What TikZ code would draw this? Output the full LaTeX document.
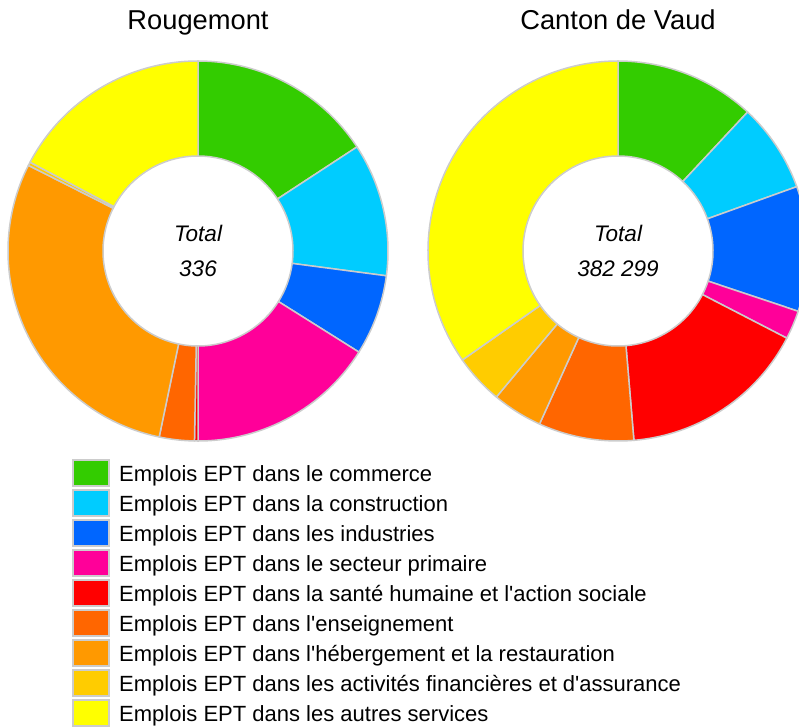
\documentclass[tikz,border=0pt]{standalone}
\usepackage{fontspec}
\setmainfont{Liberation Sans}
\usetikzlibrary{positioning}

\definecolor{commerce}{HTML}{33CC00}
\definecolor{construction}{HTML}{00CCFF}
\definecolor{industrie}{HTML}{0066FF}
\definecolor{primaire}{HTML}{FF0099}
\definecolor{sante}{HTML}{FF0000}
\definecolor{enseignement}{HTML}{FF6600}
\definecolor{hebergement}{HTML}{FF9900}
\definecolor{finance}{HTML}{FFCC00}
\definecolor{autres}{HTML}{FFFF00}
\definecolor{sepgray}{HTML}{CCCCCC}

\newcommand{\outR}{190pt}
\newcommand{\inR}{95pt}
% one ring segment: centre, start angle, end angle (clockwise from top), colour
\newcommand{\donutslice}[4]{%
  \filldraw[slice, fill=#4, shift={(#1)}]
    (90-#2:\outR) arc[start angle=90-#2, end angle=90-#3, radius=\outR]
    -- (90-#3:\inR) arc[start angle=90-#3, end angle=90-#2, radius=\inR] -- cycle;}

\begin{document}
\begin{tikzpicture}[x=1pt, y=1pt,
    slice/.style={draw=sepgray, line width=1.5pt, line join=round},
    title/.style={font=\fontsize{27.3}{32}\selectfont, anchor=base},
    total/.style={font=\fontsize{22.5}{27}\selectfont\itshape, anchor=base},
    keybox/.style={draw=sepgray, line width=2pt, minimum width=36pt, minimum height=26pt, inner sep=0pt, outer sep=0pt},
    keytext/.style={font=\fontsize{22}{26}\selectfont, anchor=base west, inner sep=0pt}]
    \useasboundingbox (0,0) rectangle (799,-727);
    \clip (0,0) rectangle (799,-727);

    %Centres
    \coordinate (rg) at (198,-251);
    \coordinate (vd) at (618,-251);

    %Rings
    \foreach \a/\b/\c in {0/56.79/commerce, 56.79/97.5/construction, 97.5/122.14/industrie,
        122.14/180/primaire, 180/181.07/sante, 181.07/191.79/enseignement,
        191.79/296.79/hebergement, 296.79/297.86/finance, 297.86/360/autres}
        \donutslice{rg}{\a}{\b}{\c};
    \foreach \a/\b/\c in {0/43/commerce, 43/70.2/construction, 70.2/108.5/industrie,
        108.5/117.3/primaire, 117.3/175.2/sante, 175.2/204.4/enseignement,
        204.4/219.8/hebergement, 219.8/235/finance, 235/360/autres}
        \donutslice{vd}{\a}{\b}{\c};

    %Titles
    \node[title] (rgtitle) at (198,-30) {Rougemont};
    \node[title] (vdtitle) at (618,-30) {Canton de Vaud};
    \node[total] (rgtotal) at (198,-241) {Total};
    \node[total] (rgsum)   at (198,-276) {336};
    \node[total] (vdtotal) at (618,-241) {Total};
    \node[total] (vdsum)   at (618,-276) {382 299};

    %Legend
    \node[keybox, fill=commerce]     (key1) at (91,-473) {};
    \node[keybox, fill=construction] (key2) [below=4pt of key1] {};
    \node[keybox, fill=industrie]    (key3) [below=4pt of key2] {};
    \node[keybox, fill=primaire]     (key4) [below=4pt of key3] {};
    \node[keybox, fill=sante]        (key5) [below=4pt of key4] {};
    \node[keybox, fill=enseignement] (key6) [below=4pt of key5] {};
    \node[keybox, fill=hebergement]  (key7) [below=4pt of key6] {};
    \node[keybox, fill=finance]      (key8) [below=4pt of key7] {};
    \node[keybox, fill=autres]       (key9) [below=4pt of key8] {};

    \node[keytext] (lab1) at ([xshift=10pt, yshift=-8.5pt]key1.east) {Emplois EPT dans le commerce};
    \node[keytext] (lab2) at ([xshift=10pt, yshift=-8.5pt]key2.east) {Emplois EPT dans la construction};
    \node[keytext] (lab3) at ([xshift=10pt, yshift=-8.5pt]key3.east) {Emplois EPT dans les industries};
    \node[keytext] (lab4) at ([xshift=10pt, yshift=-8.5pt]key4.east) {Emplois EPT dans le secteur primaire};
    \node[keytext] (lab5) at ([xshift=10pt, yshift=-8.5pt]key5.east) {Emplois EPT dans la santé humaine et l\textquotesingle action sociale};
    \node[keytext] (lab6) at ([xshift=10pt, yshift=-8.5pt]key6.east) {Emplois EPT dans l\textquotesingle enseignement};
    \node[keytext] (lab7) at ([xshift=10pt, yshift=-8.5pt]key7.east) {Emplois EPT dans l\textquotesingle hébergement et la restauration};
    \node[keytext] (lab8) at ([xshift=10pt, yshift=-8.5pt]key8.east) {Emplois EPT dans les activités financières et d\textquotesingle assurance};
    \node[keytext] (lab9) at ([xshift=10pt, yshift=-8.5pt]key9.east) {Emplois EPT dans les autres services};
\end{tikzpicture}
\end{document}
